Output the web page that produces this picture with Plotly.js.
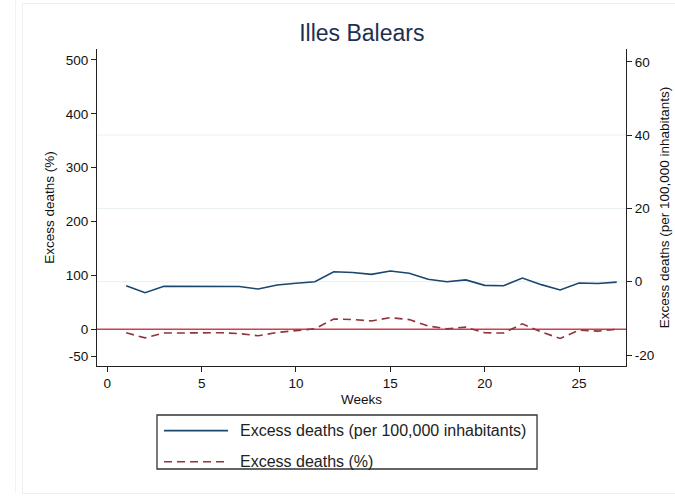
<!DOCTYPE html>
<html>
<head>
<meta charset="utf-8">
<script src="https://cdn.plot.ly/plotly-3.0.1.min.js"></script>
<style>
  html, body { margin:0; padding:0; background:#fff; }
  #chart { width:675px; height:497px; position:relative; }
  .frame1 { position:absolute; left:22px; top:3px; width:700px; height:489px; border:1px solid #efefef; pointer-events:none; z-index:5; }
  .frame2 { position:absolute; left:15px; top:0px; width:0px; height:493px; border-left:1px solid #f2f2f2; pointer-events:none; z-index:5; }
</style>
</head>
<body>
<div id="chart"><div class="frame1"></div><div class="frame2"></div></div>
<script>
// ---- data ----
const weeks = [1,2,3,4,5,6,7,8,9,10,11,12,13,14,15,16,17,18,19,20,21,22,23,24,25,26,27];
const excessPer100k = [-1.1,-3.0,-1.25,-1.25,-1.25,-1.1,-1.3,-2.0,-0.9,-0.4,0.0,2.7,2.5,2.0,2.9,2.3,0.65,0.0,0.5,-1.0,-1.1,1.0,-0.8,-2.25,-0.35,-0.5,-0.1];
const excessPct = [-6.5,-16,-7,-6.5,-6.5,-6.5,-8,-12,-6,-3,1,19,18,15.5,21.5,18,6,1,4,-6.5,-7,10,-5,-17,-1.5,-3.5,0];
const xTicks = [0,5,10,15,20,25];
const leftTicks = [-50,0,100,200,300,400,500];
const rightTicks = [-20,0,20,40,60];
const rightGrid = [0,20,40];
const seriesNames = ['Excess deaths (per 100,000 inhabitants)', 'Excess deaths (%)'];
const titleText = 'Illes Balears';

const FONT = 'Liberation Sans, Arial, Helvetica, sans-serif';
const BLUE = '#1a476f';
const MAROON = '#90353b';
const ZERO_RED = '#cf3f4f';

const traces = [
  {x: weeks, y: excessPer100k, yaxis: 'y2', type: 'scatter', mode: 'lines',
   name: seriesNames[0], line: {color: BLUE, width: 1.6}, showlegend: false, hoverinfo: 'skip'},
  {x: weeks, y: excessPct, yaxis: 'y', type: 'scatter', mode: 'lines',
   name: seriesNames[1], line: {color: MAROON, width: 1.6, dash: '8px,5px'}, showlegend: false, hoverinfo: 'skip'}
];

const shapes = [];
rightGrid.forEach(v => shapes.push({type: 'line', xref: 'paper', x0: 0, x1: 1, yref: 'y2', y0: v, y1: v,
  line: {color: '#e8f0f1', width: 1}, layer: 'below'}));
shapes.push({type: 'line', xref: 'paper', x0: 0, x1: 1, yref: 'y', y0: 0, y1: 0,
  line: {color: ZERO_RED, width: 1.4}, layer: 'below'});
// legend box
shapes.push({type: 'rect', xref: 'paper', yref: 'paper', x0: 0.1134, x1: 0.8318, y0: -0.3249, y1: -0.1546,
  line: {color: '#333333', width: 1.3}, fillcolor: 'rgba(0,0,0,0)'});
shapes.push({type: 'line', xref: 'paper', yref: 'paper', x0: 0.1267, x1: 0.2476, y0: -0.204, y1: -0.204,
  line: {color: BLUE, width: 1.6}});
shapes.push({type: 'line', xref: 'paper', yref: 'paper', x0: 0.1267, x1: 0.2476, y0: -0.302, y1: -0.302,
  line: {color: MAROON, width: 1.6, dash: '8px,5px'}});

const annotations = [
  {xref: 'paper', yref: 'paper', x: 0.2665, y: -0.204, xanchor: 'left', yanchor: 'middle', showarrow: false,
   text: seriesNames[0], font: {family: FONT, size: 16, color: '#222'}},
  {xref: 'paper', yref: 'paper', x: 0.2665, y: -0.302, xanchor: 'left', yanchor: 'middle', showarrow: false,
   text: seriesNames[1], font: {family: FONT, size: 16, color: '#222'}}
];

const axisCommon = {
  showgrid: false, zeroline: false, showline: true, linecolor: '#222', linewidth: 1,
  ticks: 'outside', ticklen: 5, tickcolor: '#222', tickwidth: 1,
  tickfont: {family: FONT, size: 13.5, color: '#111'}, automargin: false
};

const layout = {
  width: 675, height: 497,
  paper_bgcolor: '#ffffff', plot_bgcolor: '#ffffff',
  margin: {l: 97, r: 49, t: 49, b: 131},
  title: {text: titleText, x: 0.536, xref: 'container', y: 0.934, yref: 'container', xanchor: 'center', yanchor: 'middle',
          font: {family: FONT, size: 23, color: '#1e2f52'}},
  xaxis: Object.assign({}, axisCommon, {
    range: [-0.546, 27.49], tickvals: xTicks, ticktext: xTicks.map(String),
    title: {text: 'Weeks', standoff: 4, font: {family: FONT, size: 13.5, color: '#111'}}
  }),
  yaxis: Object.assign({}, axisCommon, {
    range: [-68.2, 520.4], tickvals: leftTicks, ticktext: leftTicks.map(String),
    title: {text: 'Excess deaths (%)', standoff: 8, font: {family: FONT, size: 13.5, color: '#111'}}
  }),
  yaxis2: Object.assign({}, axisCommon, {
    overlaying: 'y', side: 'right', anchor: 'x',
    range: [-23.0, 63.5], tickvals: rightTicks, ticktext: rightTicks.map(String),
    title: {text: 'Excess deaths (per 100,000 inhabitants)', standoff: 6, font: {family: FONT, size: 13.5, color: '#111'}}
  }),
  shapes: shapes,
  annotations: annotations,
  showlegend: false
};

Plotly.newPlot('chart', traces, layout, {staticPlot: true, displayModeBar: false});
</script>
</body>
</html>
